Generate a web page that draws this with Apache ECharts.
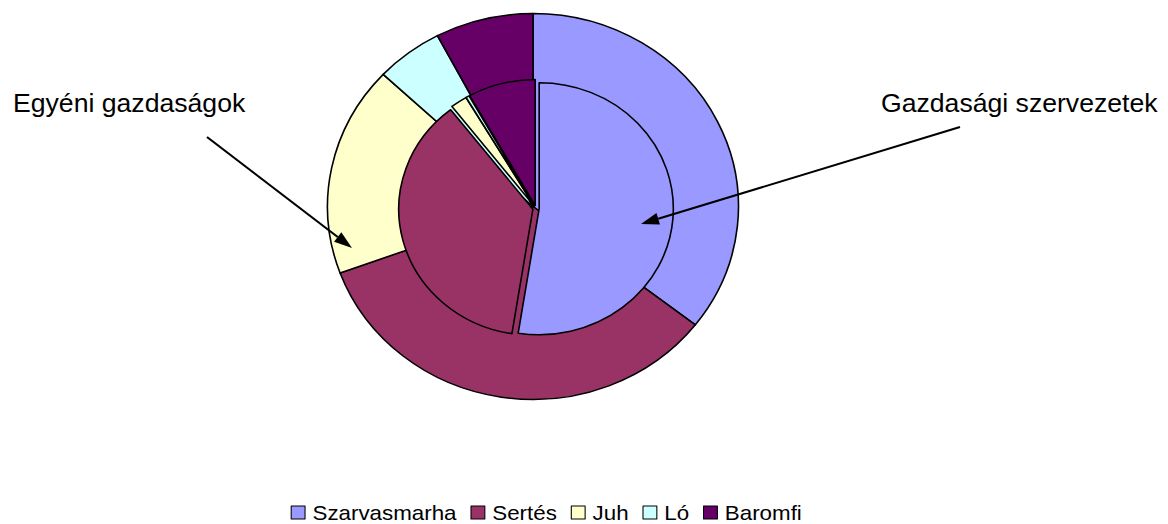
<!DOCTYPE html>
<html>
<head>
<meta charset="utf-8">
<script src="https://cdn.jsdelivr.net/npm/echarts@6/dist/echarts.min.js"></script>
<style>
  html, body { margin: 0; padding: 0; background: #fff; overflow: hidden; }
  /* the source picture is stretched sideways, so draw narrower and stretch back */
  #main { width: 1097px; height: 524px; transform: scaleX(1.0647); transform-origin: 0 0; }
</style>
</head>
<body>
<div id="main"></div>
<script>
const categories = ['Szarvasmarha', 'Sertés', 'Juh', 'Ló', 'Baromfi'];
// Egyéni gazdaságok - outer ring (%)
const egyeniValues = [35.5, 33.9, 17.6, 5.3, 7.7];
// Gazdasági szervezetek - inner pie (%)
const szervezetValues = [52.5, 37.0, 2.0, 0.4, 8.1];
const colors = ['#9999FF', '#993366', '#FFFFCC', '#CCFFFF', '#660066'];

const SX = 1168 / 1097;
const FONT = "'Liberation Sans', Arial, sans-serif";

// arrow in picture pixels, x squeezed back into chart space
function arrow(x1, y1, x2, y2) {
  const dx = x2 - x1, dy = y2 - y1, len = Math.hypot(dx, dy);
  const ux = dx / len, uy = dy / len;
  const hl = 18, hw = 6;
  const bx = x2 - ux * hl, by = y2 - uy * hl;
  const pts = [[x2, y2], [bx - uy * hw, by + ux * hw], [bx + uy * hw, by - ux * hw]]
    .map(p => [p[0] / SX, p[1]]);
  return [
    { type: 'line', z: 100, shape: { x1: x1 / SX, y1: y1, x2: bx / SX, y2: by }, style: { stroke: '#000', lineWidth: 2 } },
    { type: 'polygon', z: 100, shape: { points: pts }, style: { fill: '#000' } }
  ];
}

function note(text, x, y) {
  return { type: 'text', z: 100, x: x / SX, y: y, style: { text: text, fontSize: 25, fontFamily: FONT, fill: '#000', verticalAlign: 'middle' } };
}

let myChart = echarts.init(document.getElementById('main'), null, { renderer: 'svg' });
let option = {
  animation: false,
  color: colors,
  legend: {
    data: categories,
    left: 273,
    top: 502,
    padding: 0,
    itemGap: 13,
    itemWidth: 13,
    itemHeight: 13,
    icon: 'rect',
    itemStyle: { borderColor: '#000', borderWidth: 1 },
    textStyle: { fontSize: 21, lineHeight: 19, fontFamily: FONT, color: '#000', padding: [0, 0, 0, 2] }
  },
  graphic: [
    note('Egyéni gazdaságok', 13, 103),
    note('Gazdasági szervezetek', 881, 103),
    ...arrow(207, 137, 352, 248),
    ...arrow(960, 127, 641, 224)
  ],
  series: [
    {
      name: 'Egyéni gazdaságok',
      type: 'pie',
      center: [533 / SX, 206.5],
      radius: [0, 193],
      startAngle: 90,
      label: { show: false },
      labelLine: { show: false },
      emphasis: { disabled: true },
      itemStyle: { borderColor: '#000', borderWidth: 1.5 },
      data: categories.map((c, i) => ({ name: c, value: egyeniValues[i] }))
    },
    {
      name: 'Gazdasági szervezetek',
      type: 'pie',
      center: [536 / SX, 208.5],
      radius: [0, 126],
      startAngle: 90,
      selectedMode: 'multiple',
      selectedOffset: 3,
      label: { show: false },
      labelLine: { show: false },
      emphasis: { disabled: true },
      itemStyle: { borderColor: '#000', borderWidth: 1.5 },
      data: categories.map((c, i) => ({ name: c, value: szervezetValues[i], selected: true }))
    }
  ]
};

option && myChart.setOption(option);
</script>
</body>
</html>
